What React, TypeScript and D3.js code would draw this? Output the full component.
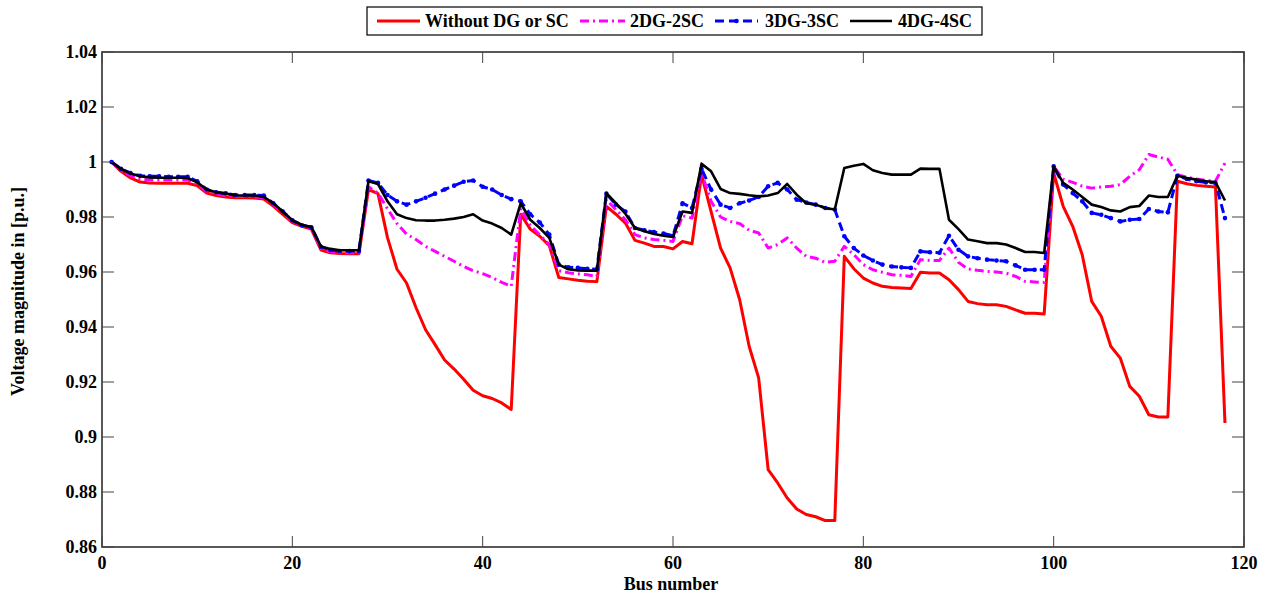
import * as d3 from 'd3'

const W = 1272
const H = 597
const PLOT = { left: 102, right: 1244, top: 52, bottom: 547 }

const FONT = '"Liberation Serif", "Times New Roman", serif'

const X_TICKS = [0, 20, 40, 60, 80, 100, 120]
const Y_TICKS = [0.86, 0.88, 0.9, 0.92, 0.94, 0.96, 0.98, 1, 1.02, 1.04]
const Y_TICK_LABELS = ['0.86', '0.88', '0.9', '0.92', '0.94', '0.96', '0.98', '1', '1.02', '1.04']

const SERIES_NAMES = ['Without DG or SC', '2DG-2SC', '3DG-3SC', '4DG-4SC']

// bus 1..118
const noDG = [
  1.0, 0.9966, 0.9942, 0.9927, 0.9924, 0.9923, 0.9923, 0.9923, 0.9923, 0.9914,
  0.9887, 0.9878, 0.9873, 0.987, 0.987, 0.9869, 0.9865, 0.984, 0.981, 0.978,
  0.9766, 0.9756, 0.968, 0.967, 0.9667, 0.9666, 0.9666, 0.99, 0.9885, 0.9725,
  0.961, 0.956, 0.947, 0.939, 0.9336, 0.928, 0.9247, 0.921, 0.917, 0.915,
  0.914, 0.9124, 0.91, 0.981, 0.9756, 0.973, 0.9696, 0.958, 0.9575, 0.957,
  0.9566, 0.9565, 0.9839, 0.981, 0.9778, 0.9715, 0.9705, 0.9693, 0.9693, 0.9684,
  0.9711, 0.9703, 0.9954, 0.982, 0.9687, 0.9615, 0.95, 0.933, 0.9215, 0.8881,
  0.8833, 0.8778, 0.8738, 0.8718, 0.871, 0.8696, 0.8696, 0.9657, 0.9612, 0.9578,
  0.956, 0.9548, 0.9544, 0.9542, 0.954, 0.9599, 0.9596, 0.9596, 0.9572, 0.9536,
  0.9493, 0.9485, 0.9481, 0.9481, 0.9475, 0.9462, 0.945, 0.945, 0.9447, 0.996,
  0.9839, 0.9766, 0.9663, 0.9493, 0.9439, 0.933, 0.9287, 0.9184, 0.9148, 0.9081,
  0.9073, 0.9073, 0.993, 0.9921, 0.9915, 0.9912, 0.9909, 0.9051
]

const dg2 = [
  1.0, 0.997, 0.995, 0.9938, 0.9935, 0.9935, 0.9935, 0.9935, 0.9935, 0.992,
  0.9893, 0.9884, 0.9878, 0.9875, 0.9875, 0.9874, 0.987, 0.9845, 0.9815, 0.9784,
  0.977, 0.976, 0.9685, 0.9675, 0.967, 0.967, 0.967, 0.991, 0.9887, 0.983,
  0.9776, 0.9738, 0.9718, 0.9693, 0.9675, 0.9657, 0.9639, 0.962, 0.9605, 0.9594,
  0.958, 0.9562, 0.9548, 0.983, 0.977, 0.9735, 0.97, 0.9605, 0.9597, 0.9593,
  0.959, 0.9584, 0.9863, 0.9827, 0.979, 0.9736, 0.9724, 0.9718, 0.9715, 0.9711,
  0.9805, 0.9796, 0.996, 0.9857, 0.98, 0.9784, 0.9776, 0.9752, 0.9742, 0.9687,
  0.97, 0.9724, 0.9687, 0.9657, 0.965, 0.9635, 0.9639, 0.9693, 0.9663, 0.9627,
  0.9608, 0.9599, 0.959, 0.9588, 0.9584, 0.9645, 0.9642, 0.9642, 0.9687, 0.9635,
  0.9611, 0.9606, 0.9602, 0.96, 0.9596, 0.9584, 0.9566, 0.9564, 0.9562, 0.9984,
  0.9938, 0.9926, 0.9912, 0.9905, 0.9909, 0.9912, 0.9918, 0.9948, 0.9972, 1.0027,
  1.0018, 1.001, 0.9954, 0.9945, 0.9938, 0.9933, 0.993, 0.9996
]

const dg3 = [
  1.0, 0.9975, 0.996, 0.995, 0.9948, 0.9948, 0.9946, 0.9946, 0.9946, 0.993,
  0.99, 0.989, 0.9886, 0.988, 0.988, 0.988, 0.9878, 0.985, 0.982, 0.9788,
  0.977, 0.9763, 0.9692, 0.968, 0.9676, 0.9676, 0.9676, 0.9933, 0.9924, 0.988,
  0.9857, 0.9845, 0.9857, 0.987, 0.9885, 0.99, 0.9914, 0.9928, 0.9933, 0.991,
  0.99, 0.988, 0.9865, 0.9857, 0.981, 0.978, 0.9736, 0.9627, 0.9617, 0.9615,
  0.9612, 0.961, 0.9885, 0.9845, 0.982, 0.976, 0.9752, 0.9745, 0.974, 0.9732,
  0.985, 0.9833, 0.9975, 0.99, 0.9845, 0.9833, 0.985, 0.986, 0.9873, 0.9912,
  0.9924, 0.99, 0.9863, 0.9853, 0.9845, 0.9833, 0.9827, 0.973, 0.9687, 0.966,
  0.9642, 0.9627, 0.962, 0.9617, 0.9615, 0.9675, 0.9672, 0.967, 0.9732, 0.9681,
  0.9657, 0.965, 0.9645, 0.9642, 0.9639, 0.9624, 0.9608, 0.9608, 0.9608, 0.9984,
  0.9918, 0.9887, 0.9857, 0.9815, 0.9808, 0.9796, 0.9784, 0.979, 0.9793, 0.9829,
  0.982, 0.9817, 0.995, 0.9938, 0.993, 0.9926, 0.9924, 0.9796
]

const dg4 = [
  1.0, 0.9975, 0.9958, 0.9948, 0.9944, 0.9943, 0.9943, 0.9943, 0.9942, 0.9926,
  0.99, 0.989, 0.9885, 0.9879, 0.9878, 0.9878, 0.9873, 0.985, 0.982, 0.9788,
  0.9772, 0.9764, 0.9693, 0.9684, 0.9679, 0.9679, 0.9679, 0.993, 0.992, 0.9857,
  0.981, 0.9796, 0.9788, 0.9787, 0.9787, 0.979, 0.9794, 0.98, 0.981, 0.9787,
  0.9776, 0.976, 0.9736, 0.985, 0.979, 0.976, 0.9724, 0.9627, 0.961, 0.9606,
  0.9605, 0.9605, 0.9887, 0.985, 0.9812, 0.976, 0.9748, 0.9738, 0.9732, 0.9727,
  0.982, 0.9815, 0.9994, 0.9966, 0.9902, 0.9887, 0.9884, 0.9879, 0.9875, 0.9878,
  0.9887, 0.992, 0.9881, 0.985, 0.9845, 0.9833, 0.9827, 0.9978, 0.9986, 0.9993,
  0.997, 0.996, 0.9954, 0.9954, 0.9954, 0.9976, 0.9975, 0.9975, 0.979, 0.9756,
  0.9718, 0.9712, 0.9705, 0.9705, 0.97, 0.9687, 0.9673, 0.9673, 0.9669, 0.9984,
  0.9924, 0.99, 0.9873, 0.9845, 0.9836, 0.9824, 0.982, 0.9836, 0.984, 0.9878,
  0.9873, 0.9873, 0.995, 0.9942, 0.9936, 0.993, 0.9927, 0.986
]

const STYLES = [
  { color: '#ff0000', width: 3, dash: undefined, dots: false },
  { color: '#ff00ff', width: 3, dash: '9,4,2,4', dots: false },
  { color: '#0000ff', width: 3, dash: '9,5', dots: true },
  { color: '#000000', width: 2.6, dash: undefined, dots: false }
]

export default function App() {
  const series = [noDG, dg2, dg3, dg4]

  const x = d3.scaleLinear().domain([0, 120]).range([PLOT.left, PLOT.right])
  const y = d3.scaleLinear().domain([0.86, 1.04]).range([PLOT.bottom, PLOT.top])

  const line = d3.line<number>()
    .x((_, i) => x(i + 1))
    .y(d => y(d))

  // legend layout
  const legend = { x: 367, y: 7, w: 615, h: 28 }
  const legendItems = [
    { lx1: 377, lx2: 420, tx: 425 },
    { lx1: 580, lx2: 625, tx: 630 },
    { lx1: 715, lx2: 758, tx: 765 },
    { lx1: 850, lx2: 892, tx: 898 }
  ]

  return (
    <svg width={W} height={H} style={{ position: 'absolute', left: 0, top: 0, background: '#fff' }}
      fontFamily={FONT} fontWeight="bold">
      <rect x={0} y={0} width={W} height={H} fill="#fff" />

      <defs>
        <clipPath id="plot-clip">
          <rect x={PLOT.left} y={PLOT.top} width={PLOT.right - PLOT.left} height={PLOT.bottom - PLOT.top} />
        </clipPath>
      </defs>

      {/* series */}
      <g clipPath="url(#plot-clip)">
        {series.map((s, si) => (
          <g key={si}>
            <path d={line(s) || ''} fill="none" stroke={STYLES[si].color} strokeWidth={STYLES[si].width}
              strokeDasharray={STYLES[si].dash} strokeLinejoin="round" />
            {STYLES[si].dots && s.map((v, i) => (
              <circle key={i} cx={x(i + 1)} cy={y(v)} r={2.3} fill={STYLES[si].color} />
            ))}
          </g>
        ))}
      </g>

      {/* box */}
      <rect x={PLOT.left} y={PLOT.top} width={PLOT.right - PLOT.left} height={PLOT.bottom - PLOT.top}
        fill="none" stroke="#222" strokeWidth={1.5} />

      {/* x ticks */}
      {X_TICKS.map(t => (
        <g key={`x${t}`}>
          <line x1={x(t)} x2={x(t)} y1={PLOT.bottom} y2={PLOT.bottom - 11} stroke="#444" strokeWidth={1} />
          <line x1={x(t)} x2={x(t)} y1={PLOT.top} y2={PLOT.top + 11} stroke="#444" strokeWidth={1} />
          <text x={x(t)} y={PLOT.bottom + 22} textAnchor="middle" fontSize={18} fill="#000">{t}</text>
        </g>
      ))}

      {/* y ticks */}
      {Y_TICKS.map((t, i) => (
        <g key={`y${t}`}>
          <line x1={PLOT.left} x2={PLOT.left + 12} y1={y(t)} y2={y(t)} stroke="#444" strokeWidth={1} />
          <line x1={PLOT.right} x2={PLOT.right - 12} y1={y(t)} y2={y(t)} stroke="#444" strokeWidth={1} />
          <text x={PLOT.left - 5} y={y(t)} dy="0.35em" textAnchor="end" fontSize={18} fill="#000">{Y_TICK_LABELS[i]}</text>
        </g>
      ))}

      {/* axis titles */}
      <text x={(PLOT.left + PLOT.right) / 2 - 2} y={590} textAnchor="middle" fontSize={18} fill="#000">Bus number</text>
      <text transform={`translate(24, ${(PLOT.top + PLOT.bottom) / 2 - 8}) rotate(-90)`} textAnchor="middle" fontSize={18} fill="#000">
        Voltage magnitude in [p.u.]
      </text>

      {/* legend */}
      <rect x={legend.x} y={legend.y} width={legend.w} height={legend.h} fill="#fff" stroke="#000" strokeWidth={1.2} />
      {legendItems.map((it, i) => (
        <g key={i}>
          <line x1={it.lx1} x2={it.lx2} y1={legend.y + legend.h / 2} y2={legend.y + legend.h / 2}
            stroke={STYLES[i].color} strokeWidth={STYLES[i].width} strokeDasharray={STYLES[i].dash} />
          {STYLES[i].dots && (
            <circle cx={(it.lx1 + it.lx2) / 2} cy={legend.y + legend.h / 2} r={2.3} fill={STYLES[i].color} />
          )}
          <text x={it.tx} y={legend.y + legend.h / 2} dy="0.35em" fontSize={18} fill="#000">{SERIES_NAMES[i]}</text>
        </g>
      ))}
    </svg>
  )
}
